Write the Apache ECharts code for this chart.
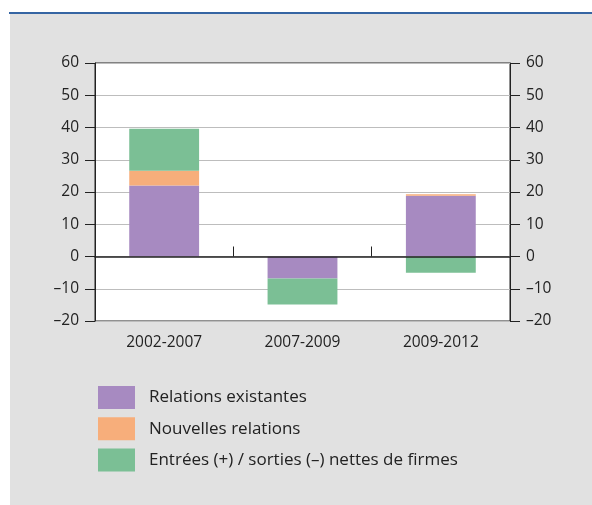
<!DOCTYPE html>
<html>
<head>
<meta charset="utf-8">
<script src="https://cdn.jsdelivr.net/npm/echarts@6/dist/echarts.min.js"></script>
<style>
  html, body { margin: 0; padding: 0; background: #fff; }
  #wrap { position: relative; width: 592px; height: 505px; }
  #panel { position: absolute; left: 10px; top: 14px; right: 0; bottom: 0; background: #e1e1e1; }
  #rule { position: absolute; left: 9px; top: 12px; right: 0; height: 2px; background: #3565a3; }
  #chart { position: absolute; left: 0; top: 0; width: 592px; height: 505px; }
</style>
</head>
<body>
<div id="wrap">
  <div id="panel"></div>
  <div id="rule"></div>
  <div id="chart"></div>
</div>
<script>
const periods = ['2002-2007', '2007-2009', '2009-2012']
const existing = [22, -6.8, 18.8]
const newRelations = [4.6, 0, 0.5]
const netFirms = [13, -8.1, -5]
const seriesNames = ['Relations existantes', 'Nouvelles relations', 'Entrées (+) / sorties (–) nettes de firmes']
const colors = ['#a78ac1', '#f7ae7b', '#7bbf95']

const font = '"Open Sans", "Noto Sans", sans-serif'
const fmt = v => (v < 0 ? '\u2013' + Math.abs(v) : String(v))

const yAxisBase = {
  type: 'value',
  min: -20,
  max: 60,
  interval: 10,
  axisLine: { show: true, lineStyle: { color: '#222', width: 1 } },
  axisTick: { show: true, length: 10, lineStyle: { color: '#222', width: 1 } },
  axisLabel: { color: '#222', fontSize: 15.5, fontFamily: font, margin: 16, formatter: fmt }
}

const chart = echarts.init(document.getElementById('chart'))
chart.setOption({
  backgroundColor: 'transparent',
  animation: false,
  color: colors,
  grid: {
    left: 95, right: 82, top: 63, bottom: 184,
    show: true, backgroundColor: '#fff', borderColor: '#222', borderWidth: 1
  },
  legend: {
    orient: 'vertical',
    left: 98,
    top: 386,
    padding: 0,
    icon: 'rect',
    itemWidth: 37,
    itemHeight: 23,
    itemGap: 8.3,
    data: seriesNames,
    textStyle: { color: '#222', fontSize: 17, fontFamily: font, padding: [0, 0, 0, 9] }
  },
  xAxis: [
    {
      type: 'category',
      data: periods,
      z: 5,
      axisLine: { onZero: true, lineStyle: { color: '#222', width: 1.5 } },
      axisTick: { show: true, inside: true, length: 10, lineStyle: { color: '#222', width: 1 } },
      axisLabel: { show: false },
      splitLine: { show: false }
    },
    {
      type: 'category',
      data: periods,
      position: 'bottom',
      axisLine: { show: false, onZero: false },
      axisTick: { show: false },
      axisLabel: { color: '#222', fontSize: 15.5, fontFamily: font, margin: 14 },
      splitLine: { show: false }
    }
  ],
  yAxis: [
    Object.assign({}, yAxisBase, {
      position: 'left',
      splitLine: { show: true, lineStyle: { color: '#bdbdbd', width: 1.2 } }
    }),
    Object.assign({}, yAxisBase, {
      position: 'right',
      splitLine: { show: false }
    })
  ],
  series: [
    { name: seriesNames[0], type: 'bar', stack: 'total', barWidth: '50.5%', data: existing },
    { name: seriesNames[1], type: 'bar', stack: 'total', barWidth: '50.5%', data: newRelations },
    { name: seriesNames[2], type: 'bar', stack: 'total', barWidth: '50.5%', data: netFirms }
  ]
})
</script>
</body>
</html>
